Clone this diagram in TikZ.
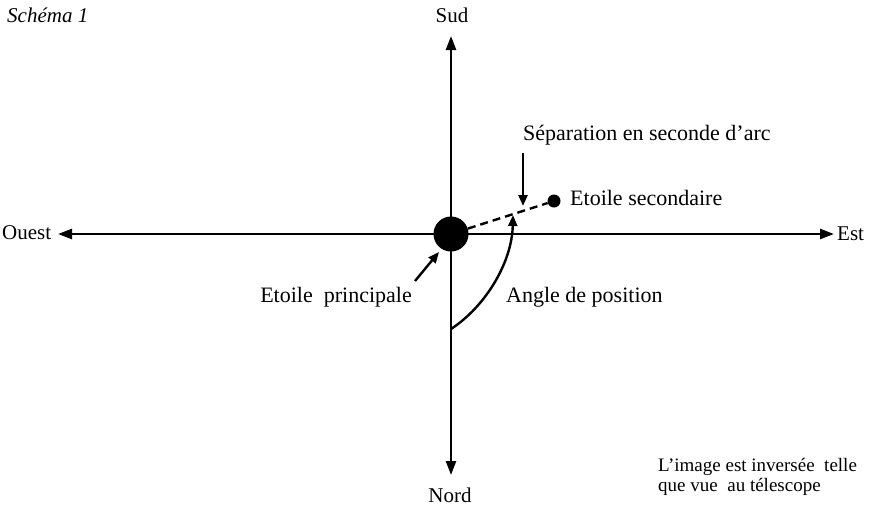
\documentclass[tikz,border=0pt]{standalone}
\usepackage{fontspec}
\setmainfont{Liberation Serif}
\usetikzlibrary{arrows.meta}
\tikzset{
	axe/.style={line width=2.4pt, -{Triangle[length=14pt,width=10pt]}},
	fleche/.style={line width=2.4pt, -{Triangle[length=11pt,width=9pt]}},
	lbl/.style={font=\fontsize{21}{25}\selectfont, inner sep=0pt},
	txt/.style={font=\fontsize{22}{26}\selectfont, inner sep=0pt},
	etoile/.style={circle, fill=black, inner sep=0pt},
}
\begin{document}
\begin{tikzpicture}[x=1pt,y=-1pt]
	\useasboundingbox (0,0) rectangle (870,509);
	\coordinate (O) at (451,234);
	\coordinate (tipS) at (451,36);
	\coordinate (tipN) at (451,475);
	\coordinate (tipO) at (58,234);
	\coordinate (tipE) at (834,234);
	\foreach \t in {tipS,tipN,tipO,tipE}
		\draw[axe] (O) -- (\t);
	\node[lbl] (sud) at (452,15) {Sud};
	\node[lbl] (nord) at (450,495) {Nord};
	\node[lbl, anchor=west] (ouest) at (2,233) {Ouest};
	\node[lbl, anchor=west] (est) at (837,234) {Est};
	\node[lbl, anchor=west, font=\fontsize{21}{25}\selectfont\itshape] (schema) at (7,15) {Schéma 1};
	% etoiles
	\node[etoile, minimum size=35pt] (princ) at (O) {};
	\node[etoile, minimum size=13pt] (sec) at (554,201) {};
	\draw[line width=2.4pt, dash pattern=on 8pt off 5pt] (princ) -- (sec);
	% textes
	\node[txt, anchor=west] (sep) at (523,135) {Séparation en seconde d'arc};
	\node[txt, anchor=west] (secl) at (570,198) {Etoile secondaire};
	\node[txt, anchor=east] (princl) at (412,297) {Etoile \ principale};
	\node[txt, anchor=west] (angle) at (506,297) {Angle de position};
	\node[lbl, anchor=north west, align=left, font=\fontsize{19}{20.5}\selectfont] (note) at (658,458) {L'image est inversée \ telle\\que vue \ au télescope};
	% fleches
	\coordinate (sepA) at (523,153);
	\coordinate (sepB) at (523,206);
	\draw[fleche] (sepA) -- (sepB);
	\coordinate (prA) at (415,281);
	\coordinate (prB) at (439,252);
	\draw[fleche] (prA) -- (prB);
	\coordinate (anA) at (451,329);
	\coordinate (anB) at (513,215);
	\draw[fleche] (anA) .. controls (486,306) and (512,262) .. (anB);
\end{tikzpicture}
\end{document}
